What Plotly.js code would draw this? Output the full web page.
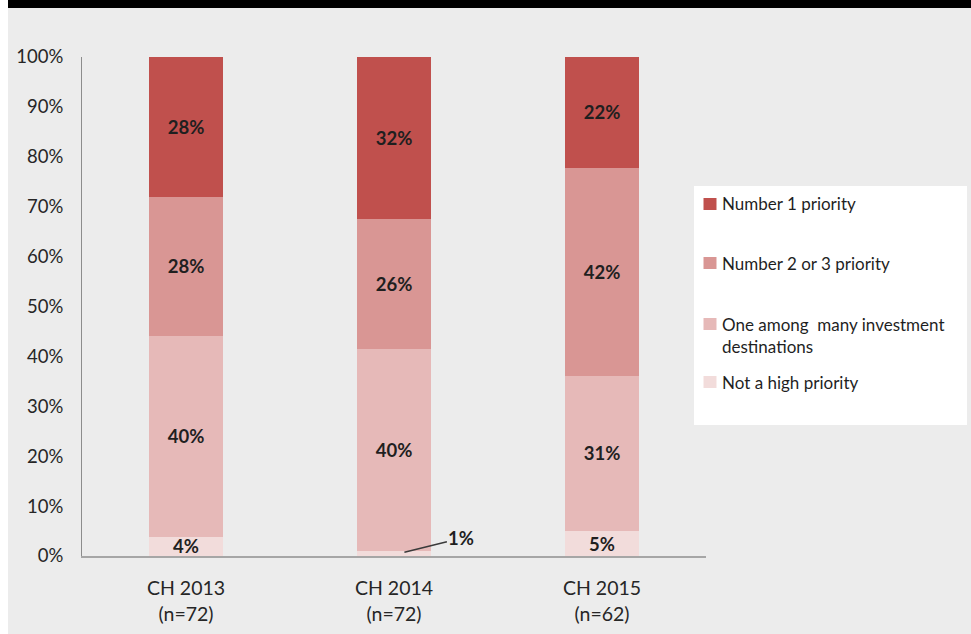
<!DOCTYPE html>
<html>
<head>
<meta charset="utf-8">
<script src="https://cdn.plot.ly/plotly-3.0.1.min.js"></script>
<style>
  html, body { margin: 0; padding: 0; background: #ffffff; }
  #chart { position: absolute; left: 8px; top: 0; width: 963px; height: 634px; }
</style>
</head>
<body>
<div id="chart"></div>
<script>
// ---- data ----
const categories = ['CH 2013', 'CH 2014', 'CH 2015'];
const sampleSizes = [72, 72, 62];

const notHigh   = [3.9, 1.1, 5.0];
const oneAmong  = [40.2, 40.4, 31.1];
const number23  = [27.9, 26.0, 41.7];
const number1   = [28.0, 32.5, 22.2];

const notHighLabels  = ['4%', '1%', '5%'];
const oneAmongLabels = ['40%', '40%', '31%'];
const number23Labels = ['28%', '26%', '42%'];
const number1Labels  = ['28%', '32%', '22%'];
const calloutIndex = 1; // the 1% slice is labelled outside with a leader line

const seriesNames = ['Not a high priority', 'One among  many investment destinations',
                     'Number 2 or 3 priority', 'Number 1 priority'];
const legendTexts = ['Number 1 priority', 'Number 2 or 3 priority',
                     'One among  many investment<br>destinations', 'Not a high priority'];

const yTicks = [0, 10, 20, 30, 40, 50, 60, 70, 80, 90, 100];

// ---- styling ----
const colors = { number1: '#c0504d', number23: '#d99694', oneAmong: '#e6b9b8', notHigh: '#f2dcdb' };
const FONT = 'Lato, "Open Sans", sans-serif';
const textColor = '#1f1f1f';

// plot area geometry (px within the chart div)
const M = { l: 74, r: 265, t: 57, b: 78 };
const W = 963, H = 634;
const PW = W - M.l - M.r, PH = H - M.t - M.b;
const px = x => (x - 8 - M.l) / PW;         // page x -> paper x
const py = y => (H - M.b - y) / PH;          // page y -> paper y

const tickText = categories.map((c, i) => c + '<br>(n=' + sampleSizes[i] + ')');

function bar(y, labels, name, color, skip) {
  return {
    type: 'bar', x: categories, y: y, name: name,
    marker: { color: color, line: { width: 0 } },
    text: labels.map((t, i) => (skip === i ? '' : t)),
    textposition: 'inside', insidetextanchor: 'middle', textangle: 0,
    constraintext: 'none',
    textfont: { family: FONT, size: 18.5, color: textColor, weight: 'bold' },
    hoverinfo: 'name+y', showlegend: false
  };
}

const data = [
  bar(notHigh, notHighLabels, seriesNames[0], colors.notHigh, calloutIndex),
  bar(oneAmong, oneAmongLabels, seriesNames[1], colors.oneAmong),
  bar(number23, number23Labels, seriesNames[2], colors.number23),
  bar(number1, number1Labels, seriesNames[3], colors.number1)
];

// legend drawn manually (white box, squares and text)
const legendColors = [colors.number1, colors.number23, colors.oneAmong, colors.notHigh];
const legendY = [204, 263, 335, 382];      // centre of each text block (page px)
const legendSquareY = [204, 263, 324, 382];

const shapes = [
  // black strip at the top
  { type: 'rect', xref: 'paper', yref: 'paper', x0: px(8), x1: px(971), y0: py(8), y1: py(0),
    fillcolor: '#000000', line: { width: 0 }, layer: 'above' },
  // legend box
  { type: 'rect', xref: 'paper', yref: 'paper', x0: px(694), x1: px(967), y0: py(425), y1: py(186),
    fillcolor: '#ffffff', line: { width: 0 }, layer: 'below' }
];
legendColors.forEach((c, i) => {
  shapes.push({ type: 'rect', xref: 'paper', yref: 'paper',
    x0: px(703.5), x1: px(716.5), y0: py(legendSquareY[i] + 6), y1: py(legendSquareY[i] - 6),
    fillcolor: c, line: { width: 0 }, layer: 'above' });
});

const annotations = legendTexts.map((t, i) => ({
  xref: 'paper', yref: 'paper', x: px(720), y: py(legendY[i]),
  xanchor: 'left', yanchor: 'middle', align: 'left', showarrow: false,
  text: t, font: { family: FONT, size: 17, color: textColor }
}));

// call-out label for the tiny slice
annotations.push({
  xref: 'x', yref: 'y', x: calloutIndex + 0.05, y: notHigh[calloutIndex] * 0.68,
  text: notHighLabels[calloutIndex], showarrow: true, arrowhead: 0, arrowwidth: 1.5,
  arrowcolor: '#3a3a3a', ax: 57, ay: -14, standoff: 0,
  font: { family: FONT, size: 18.5, color: textColor, weight: 'bold' }
});

const layout = {
  width: W, height: H,
  margin: M,
  paper_bgcolor: '#ececec', plot_bgcolor: '#ececec',
  barmode: 'stack', bargap: 0.64,
  font: { family: FONT, color: textColor },
  xaxis: {
    type: 'category', tickvals: categories, ticktext: tickText,
    showgrid: false, zeroline: false, ticks: '',
    showline: true, linecolor: '#a6a6a6', linewidth: 2,
    tickfont: { family: FONT, size: 19.5, color: '#262626' },
    ticklabelstandoff: 14, fixedrange: true
  },
  yaxis: {
    range: [0, 100], tickvals: yTicks, ticktext: yTicks.map(v => v + '%'),
    showgrid: false, zeroline: false, ticks: '',
    showline: true, linecolor: '#8c8c8c', linewidth: 1,
    tickfont: { family: FONT, size: 18.5, color: '#262626' },
    ticklabelstandoff: 14, fixedrange: true
  },
  shapes: shapes,
  annotations: annotations,
  showlegend: false
};

Plotly.newPlot('chart', data, layout, { displayModeBar: false, staticPlot: true });
</script>
</body>
</html>
